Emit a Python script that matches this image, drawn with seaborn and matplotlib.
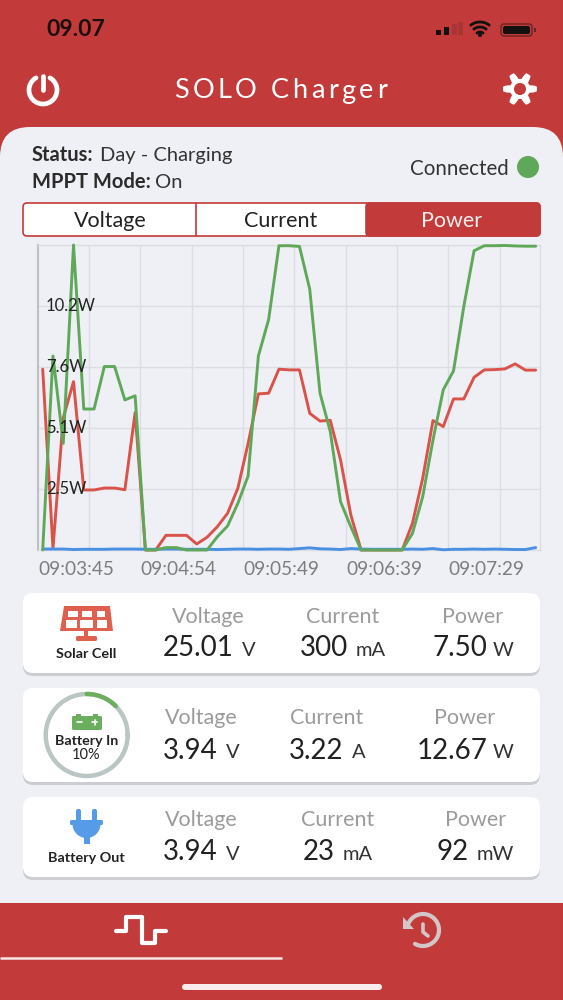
import numpy as np
import pandas as pd
import matplotlib
matplotlib.use("Agg")
import matplotlib.pyplot as plt
import seaborn as sns
from matplotlib.patches import FancyBboxPatch, Rectangle, Circle, Polygon
from matplotlib.transforms import ScaledTranslation

# power readings, one per sample (W)
solar_power = [7.53, 0.07, 5.5, 7.01, 2.5, 2.5, 2.58, 2.58, 2.51, 5.72, 0, 0, 0.61, 0.61, 0.61, 0.25, 0.53,
               0.97, 1.53, 2.57, 4.44, 6.5, 6.53, 7.53, 7.5, 7.5, 5.69, 5.37, 5.4, 3.75, 1.46, 0, 0, 0, 0, 0,
               1.11, 2.99, 5.39, 5.14, 6.29, 6.29, 7.19, 7.5, 7.51, 7.54, 7.75, 7.49, 7.49]
battery_in_power = [0, 8.08, 4.44, 12.7, 5.87, 5.87, 7.64, 7.64, 6.25, 6.42, 0, 0, 0.1, 0.1, 0, 0, 0,
                    0.55, 1.0, 1.94, 3.08, 8.08, 9.6, 12.67, 12.67, 12.64, 10.86, 6.53, 4.93, 2.01, 0.97, 0, 0, 0, 0, 0,
                    0.69, 2.22, 4.58, 6.67, 7.46, 10.14, 12.46, 12.67, 12.67, 12.68, 12.66, 12.65, 12.65]
battery_out_power = [0.04, 0.04, 0.04, 0.02, 0.03, 0.03, 0.03, 0.04, 0.04, 0.04, 0.03, 0.03, 0.04, 0.04, 0.03, 0.03, 0.03,
                     0.02, 0.03, 0.04, 0.04, 0.03, 0.04, 0.04, 0.03, 0.06, 0.09, 0.05, 0.04, 0.02, 0.06, 0.04, 0.03, 0.03, 0.03, 0.03,
                     0.04, 0.03, 0.06, 0.01, 0.03, 0.03, 0.04, 0.03, 0.04, 0.03, 0.02, 0.02, 0.1]

y_ticks = [0, 2.54, 5.08, 7.62, 10.16, 12.7]
y_tick_labels = ["", "2.5W", "5.1W", "7.6W", "10.2W", ""]
x_ticks = [4.5, 9.5, 14.5, 19.5, 24.5, 29.5, 34.5, 39.5, 44.5]
x_tick_labels = ["09:03:45", "", "09:04:54", "", "09:05:49", "", "09:06:39", "", "09:07:29"]

RED = "#C23B3A"
PANEL = "#EFF0F5"
LINE_COLORS = {"solar": "#D9534A", "out": "#4A90E2", "in": "#5FA85A"}

sns.set_theme(style="whitegrid")
plt.rcParams["font.family"] = ["Lato", "DejaVu Sans"]

fig = plt.figure(figsize=(5.63, 10), dpi=100, facecolor=RED)
bg = fig.add_axes([0, 0, 1, 1])
bg.set_xlim(0, 563)
bg.set_ylim(1000, 0)
bg.axis("off")


def box(x, y, w, h, r, **kw):
    bg.add_patch(FancyBboxPatch((x + r, y + r), w - 2 * r, h - 2 * r, boxstyle=f"round,pad={r}", **kw))


def arc(cx, cy, r, a0, a1, **kw):
    t = np.radians(np.linspace(a0, a1, 60))
    bg.plot(cx + r * np.cos(t), cy - r * np.sin(t), solid_capstyle="round", **kw)


def label(x, y, s, size, color="#222222", ha="left", weight="normal"):
    return bg.text(x, y, s, fontsize=size, color=color, ha=ha, va="center", fontweight=weight)


# header
label(46, 29, "09.07", 16.5, color="#1a0f0f", weight="bold")
for bx, bh, col in [(436, 5, "#111111"), (444, 8, "#111111"), (452, 11, "#A83534"), (458, 13, "#A83534")]:
    bg.add_patch(Rectangle((bx, 35 - bh), 4.5, bh, color=col, lw=0))
for r in [5, 10, 15]:
    arc(480, 37, r, 52, 128, color="#111111", lw=2)
bg.add_patch(Circle((480, 35), 2, color="#111111", lw=0))
box(501, 24, 31, 12, 3, facecolor="none", edgecolor="#6b2222", lw=1)
box(503, 26, 27, 8, 2, facecolor="#111111", edgecolor="none")
bg.add_patch(Rectangle((534, 28), 1.5, 4, color="#6b2222", lw=0))

x_pos = 174
fig.canvas.draw()
for ch in "SOLO Charger":
    t = label(x_pos, 91, ch, 19.5, color="white")
    x_pos += t.get_window_extent().width + 3.6 if ch != " " else 10

arc(43, 90, 14, 120, 420, color="white", lw=3.4)
bg.plot([43, 43], [76, 90], color="white", lw=3.4, solid_capstyle="round")

# gear icon outline
ang = np.radians(np.linspace(0, 360, 241))
rad = 13.5 + 3.4 * np.clip(1.6 * np.cos(6 * ang), -1, 1)
bg.add_patch(Polygon(np.c_[520 + rad * np.cos(ang), 89 + rad * np.sin(ang)], color="white", lw=0))
bg.add_patch(Circle((520, 89), 6, color=RED, lw=0))

# main panel
box(0, 127, 563, 830, 30, facecolor=PANEL, edgecolor="none")
label(32, 155, "Status:", 14.5, color="#2b2b2b", weight="bold")
label(100, 155, "Day - Charging", 14.5, color="#333333")
label(32, 182, "MPPT Mode:", 14.5, color="#2b2b2b", weight="bold")
label(155, 182, "On", 14.5, color="#333333")
label(410, 169, "Connected", 14.8, color="#333333")
bg.add_patch(Circle((528, 167), 11, color="#5FA85A", lw=0))

# tab bar
box(23, 203, 517, 33, 4, facecolor="white", edgecolor=RED, lw=1.2)
box(366, 203, 174, 33, 4, facecolor=RED, edgecolor=RED, lw=1.2)
bg.add_patch(Rectangle((366, 203), 12, 33, color=RED, lw=0))
bg.plot([196, 196], [203, 236], color=RED, lw=1.2)
label(110, 221, "Voltage", 15.5, color="#222222", ha="center")
label(281, 221, "Current", 15.5, color="#222222", ha="center")
label(452, 221, "Power", 15.5, color="#F8EEEE", ha="center")

# chart
ax = fig.add_axes([38 / 563, 450 / 1000, 502 / 563, 305 / 1000], facecolor=PANEL)
df = pd.DataFrame({"sample": np.arange(len(solar_power)), "solar": solar_power,
                   "out": battery_out_power, "in": battery_in_power})
long_df = df.melt(id_vars="sample", var_name="series", value_name="power")
sns.lineplot(data=long_df, x="sample", y="power", hue="series", hue_order=["solar", "out", "in"],
             palette=LINE_COLORS, linewidth=2.1, legend=False, ax=ax, clip_on=False, zorder=3)
ax.set_xlim(-0.458, 48.42)
ax.set_ylim(0, 12.7)
ax.set_xlabel("")
ax.set_ylabel("")
ax.set_xticks(x_ticks)
ax.set_xticklabels(x_tick_labels)
ax.set_yticks(y_ticks)
ax.set_yticklabels([])
ax.grid(True, color="#DCDDE3", lw=1)
ax.set_axisbelow(True)
ax.tick_params(axis="x", length=4, width=1, color="#C9CAD0", labelsize=13.7, labelcolor="#7d7d7d", pad=4)
ax.tick_params(axis="y", length=4.3, width=1, color="#C9CAD0")
# y labels sit inside the plot, on top of the lines
for val, s in zip(y_ticks, y_tick_labels):
    ax.annotate(s, (0, val), xycoords=ax.get_yaxis_transform(), xytext=(5.8, 0), textcoords="offset points",
                fontsize=12, color="#222222", va="center", ha="left", zorder=6)
shift = ScaledTranslation(-13 / 100, 0, fig.dpi_scale_trans)
for t in ax.get_xticklabels():
    t.set_transform(t.get_transform() + shift)
for side in ["top", "right", "bottom"]:
    ax.spines[side].set_color("#DCDDE3")
    ax.spines[side].set_linewidth(1)
ax.spines["left"].set_color("#BFC0C6")
ax.spines["left"].set_linewidth(1.5)

# reading cards
cards = [
    (593, 80, 617, 648, [(208, "Voltage", 163, "25.01", 242, "V"), (343, "Current", 300, "300", 356, "mA"), (473, "Power", 432, "7.50", 493, "W")]),
    (688, 94, 718, 751, [(201, "Voltage", 163, "3.94", 226, "V"), (327, "Current", 289, "3.22", 352, "A"), (465, "Power", 417, "12.67", 493, "W")]),
    (797, 80, 820, 852, [(201, "Voltage", 163, "3.94", 226, "V"), (338, "Current", 303, "23", 343, "mA"), (476, "Power", 437, "92", 477, "mW")]),
]
for top, height, name_y, val_y, cols in cards:
    box(23, top + 3, 517, height, 10, facecolor="#C4C5C9", edgecolor="none", alpha=0.8)
    box(23, top, 517, height, 10, facecolor="white", edgecolor="none")
    for lx, name, vx, val, ux, unit in cols:
        label(lx, name_y, name, 15.5, color="#9b9b9b", ha="center")
        label(vx, val_y, val, 20, color="#222222")
        label(ux, val_y + 2, unit, 14.5, color="#333333")

# solar cell icon
SOLAR = "#E0604F"
bg.add_patch(Polygon([(64, 606), (110, 606), (113, 631), (60, 631)], color=SOLAR, lw=0))
for x0, w0 in [(68, 10), (82, 10), (97, 8)]:
    bg.add_patch(Rectangle((x0, 611), w0, 6, color="white", lw=0))
for x0, w0 in [(66, 11), (80, 13), (97, 10)]:
    bg.add_patch(Rectangle((x0, 620), w0, 8, color="white", lw=0))
bg.add_patch(Rectangle((84, 631), 4, 6, color=SOLAR, lw=0))
box(76, 636, 21, 5, 1.5, facecolor=SOLAR, edgecolor="none")
label(86, 654, "Solar Cell", 10.4, color="#222222", ha="center", weight="bold")

# battery in gauge
arc(86.7, 735, 41, 0, 360, color="#B9C6C3", lw=3.2)
arc(86.7, 735, 41, 90, 45, color="#6BAE5E", lw=3.2)
box(72, 716, 30, 14, 1.5, facecolor="#6BAE5E", edgecolor="none")
bg.add_patch(Rectangle((76, 713.5), 5, 3, color="#6BAE5E", lw=0))
bg.add_patch(Rectangle((93, 713.5), 5, 3, color="#6BAE5E", lw=0))
bg.plot([77, 82], [722, 722], color="white", lw=1.2)
bg.plot([92, 97], [722, 722], color="white", lw=1.2)
bg.plot([94.5, 94.5], [719.5, 724.5], color="white", lw=1.2)
label(86.5, 741, "Battery In", 10.3, color="#222222", ha="center", weight="bold")
label(86.5, 755, "10%", 10.5, color="#222222", ha="center")

# battery out plug
PLUG = "#559BE8"
box(76, 809, 5, 12, 2, facecolor=PLUG, edgecolor="none")
box(92, 809, 5, 12, 2, facecolor=PLUG, edgecolor="none")
box(70, 820, 33, 5, 1.5, facecolor=PLUG, edgecolor="none")
t = np.radians(np.linspace(180, 360, 40))
bg.add_patch(Polygon(np.c_[86.5 + 14 * np.cos(t), 824 - 14 * np.sin(t)], color=PLUG, lw=0))
bg.add_patch(Rectangle((84, 836), 5.5, 8, color=PLUG, lw=0))
label(86, 858, "Battery Out", 10.4, color="#222222", ha="center", weight="bold")

# bottom nav
bg.add_patch(Rectangle((0, 903), 563, 97, color=RED, lw=0))
bg.plot([116, 126, 126, 142, 142, 155, 155, 166], [931, 931, 917, 917, 943, 943, 931, 931],
        color="white", lw=3, solid_joinstyle="round", solid_capstyle="round")
bg.plot([0, 282], [958, 958], color="#F5E5E5", lw=1.8, solid_capstyle="butt")
arc(423, 930, 16, 160, -120, color="#D3C6C8", lw=3)
bg.add_patch(Polygon([(403, 917), (403, 929), (414, 929)], color="#D3C6C8", lw=0))
bg.plot([423, 423, 428], [924, 932, 936], color="#D3C6C8", lw=2.6, solid_capstyle="round")
box(182, 984, 200, 6, 3, facecolor="#F8ECEC", edgecolor="none")

fig.savefig("out.png", dpi=100, facecolor=RED)
